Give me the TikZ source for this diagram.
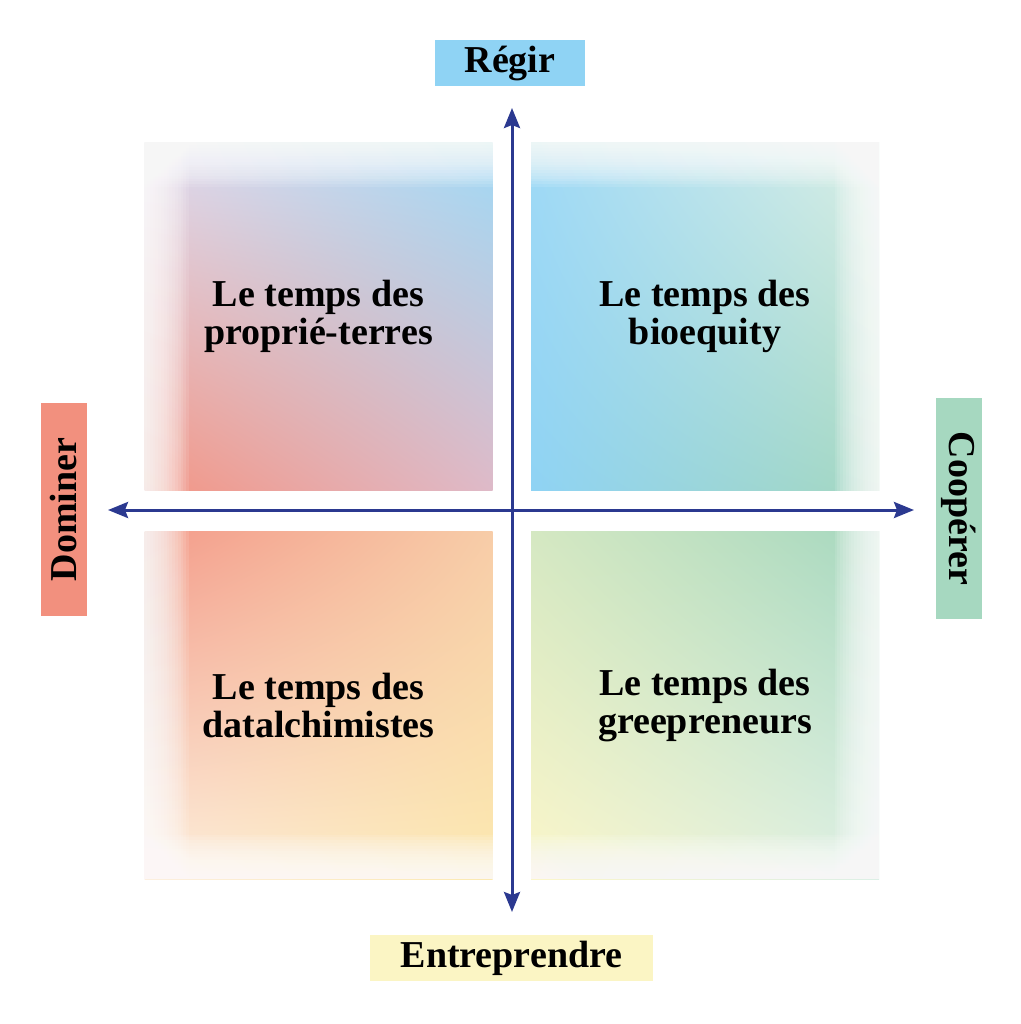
\documentclass[tikz,border=0pt]{standalone}
\usepackage{fontspec}
\setmainfont{Liberation Serif}
\usepackage{tikz}
\usetikzlibrary{arrows.meta,shadings}
\definecolor{axisblue}{HTML}{2B3990}
\definecolor{regirblue}{HTML}{8FD3F4}
\definecolor{dominerred}{HTML}{F2907E}
\definecolor{cooperergreen}{HTML}{A6D8C0}
\definecolor{entreyellow}{HTML}{FBF5C4}
\definecolor{lavender}{HTML}{D6CCE8}
\pgfmathsetmacro{\quadSize}{174}
\pgfmathsetmacro{\fadeStep}{1.4}
\tikzset{
	quad/.style= {
		rectangle, minimum size=\quadSize pt,
		inner sep=0, align=center,
		font=\fontsize{19}{19}\selectfont\bfseries
	},
	axislabel/.style= {
		rectangle, inner sep=0, minimum height=23pt,
		font=\fontsize{19}{19}\selectfont\bfseries
	},
	fade/.style= {white, opacity=0.11},
	axis/.style= {
		draw=axisblue, line width=1.5pt,
		{Stealth[length=10pt,width=8pt,inset=1.5pt]}-{Stealth[length=10pt,width=8pt,inset=1.5pt]}
	}
}

\begin{document}
\begin{tikzpicture}[x=0.5pt,y=-0.5pt]
\useasboundingbox (0,0) rectangle (1021,1024);

% quadrants
\node[quad, shade, upper left=lavender!70!white, upper right=regirblue!85!white,
	lower left=dominerred!95!white, lower right=lavender!70!dominerred]
	(tl) at (318.5,316.5) {Le temps des\\propri\'e-terres};
\node[quad, shade, upper left=regirblue!85!white, upper right=cooperergreen!40!white,
	lower left=regirblue, lower right=cooperergreen]
	(tr) at (705,316.5) {Le temps des\\bioequity};
\node[quad, shade, upper left=dominerred!90!white, upper right=dominerred!40!entreyellow,
	lower left=entreyellow!70!dominerred!40!white, lower right=entreyellow!90!orange]
	(bl) at (318.5,705) {Le temps des\\datalchimistes};
\node[quad, shade, upper left=entreyellow!55!cooperergreen, upper right=cooperergreen,
	lower left=entreyellow!90!white, lower right=cooperergreen!40!white]
	(br) at (705,705) {Le temps des\\greepreneurs};

% white edges of the quadrants
\foreach \q/\a/\b/\sx/\sy in {tl/north west/south west/1/0, tl/north west/north east/0/-1,
	tr/north west/north east/0/-1, tr/north east/south east/-1/0,
	bl/north west/south west/1/0, bl/south west/south east/0/1,
	br/north east/south east/-1/0, br/south west/south east/0/1}{%
	\foreach \k in {1,...,16}{%
		\fill[fade] (\q.\a) rectangle ([xshift=\sx*\k*\fadeStep pt, yshift=\sy*\k*\fadeStep pt]\q.\b);
	}
}

% axis labels
\node[axislabel, fill=regirblue, minimum width=75pt] (regir) at (510,63) {Régir};
\node[axislabel, fill=entreyellow, minimum width=141.5pt] (entre) at (511.5,958) {Entreprendre};
\node[axislabel, fill=dominerred, minimum width=106.5pt, rotate=90] (dominer) at (64,509.5) {Dominer};
\node[axislabel, fill=cooperergreen, minimum width=110.5pt, rotate=-90] (cooperer) at (959,508.5) {Coopérer};

% axes
\coordinate (north) at (512,108);
\coordinate (south) at (512,912);
\coordinate (west) at (108,510);
\coordinate (east) at (914,510);
\draw[axis] (north) -- (south);
\draw[axis] (west) -- (east);
\end{tikzpicture}
\end{document}
